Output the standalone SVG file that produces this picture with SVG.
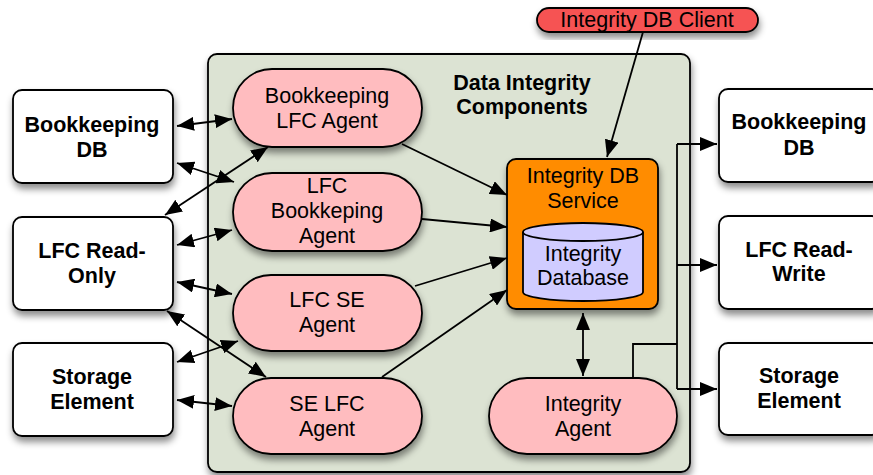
<svg xmlns="http://www.w3.org/2000/svg" width="873" height="475" viewBox="0 0 873 475">
  <defs>
    <filter id="shadow" x="-20%" y="-20%" width="140%" height="150%">
      <feDropShadow dx="1" dy="5" stdDeviation="3.5" flood-color="#000" flood-opacity="0.45"/>
    </filter>
    <marker id="arrow" markerUnits="userSpaceOnUse" markerWidth="18" markerHeight="14" refX="17" refY="7" orient="auto-start-reverse">
      <path d="M0,0 L17,7 L0,14 z" fill="#000"/>
    </marker>
  </defs>
  <style>
    text { font-family: "Liberation Sans", Arial, Helvetica, sans-serif; font-size: 21.5px; text-anchor: middle; fill: #000; }
    .bold { font-weight: bold; }
    .ext { fill: #fff; stroke: #000; stroke-width: 1.8; filter: url(#shadow); }
    .agent { fill: #ffbcbf; stroke: #000; stroke-width: 1.8; filter: url(#shadow); }
    .conn line, .conn path { stroke: #000; stroke-width: 1.8; fill: none; }
    .two { marker-start: url(#arrow); marker-end: url(#arrow); }
    .one { marker-end: url(#arrow); }
  </style>

  <!-- container -->
  <g id="data-integrity-components">
    <rect x="208" y="54" width="482" height="418" rx="9" fill="#dce3d3" stroke="#000" stroke-width="1.8" filter="url(#shadow)"/>
    <text class="bold" x="522" y="90">Data Integrity</text>
    <text class="bold" x="522" y="114">Components</text>
  </g>

  <!-- external systems, left -->
  <g id="bookkeeping-db-left">
    <rect class="ext" x="13" y="90" width="160" height="93" rx="9"/>
    <text class="bold" x="92" y="132">Bookkeeping</text>
    <text class="bold" x="92" y="157">DB</text>
  </g>
  <g id="lfc-read-only">
    <rect class="ext" x="13" y="217" width="160" height="93" rx="9"/>
    <text class="bold" x="92" y="258">LFC Read-</text>
    <text class="bold" x="92" y="283">Only</text>
  </g>
  <g id="storage-element-left">
    <rect class="ext" x="13" y="343" width="160" height="93" rx="9"/>
    <text class="bold" x="92" y="384">Storage</text>
    <text class="bold" x="92" y="409">Element</text>
  </g>

  <!-- external systems, right -->
  <g id="bookkeeping-db-right">
    <rect class="ext" x="719" y="89" width="162" height="93" rx="9"/>
    <text class="bold" x="799" y="129">Bookkeeping</text>
    <text class="bold" x="799" y="155">DB</text>
  </g>
  <g id="lfc-read-write">
    <rect class="ext" x="719" y="216" width="162" height="93" rx="9"/>
    <text class="bold" x="799" y="257">LFC Read-</text>
    <text class="bold" x="799" y="281">Write</text>
  </g>
  <g id="storage-element-right">
    <rect class="ext" x="719" y="343" width="162" height="92" rx="9"/>
    <text class="bold" x="799" y="383">Storage</text>
    <text class="bold" x="799" y="408">Element</text>
  </g>

  <!-- agents -->
  <g id="bookkeeping-lfc-agent">
    <rect class="agent" x="233" y="69" width="189" height="78" rx="39"/>
    <text x="327" y="103">Bookkeeping</text>
    <text x="327" y="128">LFC Agent</text>
  </g>
  <g id="lfc-bookkeping-agent">
    <rect class="agent" x="233" y="173" width="189" height="78" rx="39"/>
    <text x="327" y="193">LFC</text>
    <text x="327" y="218">Bookkeping</text>
    <text x="327" y="243">Agent</text>
  </g>
  <g id="lfc-se-agent">
    <rect class="agent" x="233" y="275" width="189" height="76" rx="38"/>
    <text x="327" y="307">LFC SE</text>
    <text x="327" y="332">Agent</text>
  </g>
  <g id="se-lfc-agent">
    <rect class="agent" x="233" y="378" width="189" height="76" rx="38"/>
    <text x="327" y="411">SE LFC</text>
    <text x="327" y="436">Agent</text>
  </g>
  <g id="integrity-agent">
    <rect class="agent" x="489" y="378" width="188" height="76" rx="38"/>
    <text x="583" y="411">Integrity</text>
    <text x="583" y="436">Agent</text>
  </g>

  <!-- service with its database -->
  <g id="integrity-db-service">
    <rect x="507" y="159" width="151" height="150" rx="9" fill="#ff8c00" stroke="#000" stroke-width="1.8" filter="url(#shadow)"/>
    <text x="583" y="183">Integrity DB</text>
    <text x="583" y="208">Service</text>
  </g>
  <g id="integrity-database">
    <path d="M523,232 V292 A60,9 0 0 0 643,292 V232 A60,9 0 0 0 523,232 Z" fill="#d0ccff" stroke="#000" stroke-width="1.8"/>
    <path d="M523,232 A60,9 0 0 0 643,232" fill="none" stroke="#000" stroke-width="1.8"/>
    <text x="583" y="261">Integrity</text>
    <text x="583" y="285">Database</text>
  </g>

  <!-- client -->
  <g id="integrity-db-client">
    <rect x="537" y="8" width="221" height="24" rx="12" fill="#f65353" stroke="#000" stroke-width="1.8" filter="url(#shadow)"/>
    <text x="647" y="27">Integrity DB Client</text>
  </g>

  <!-- connectors -->
  <g id="connectors" class="conn">
    <line class="two" x1="177" y1="126" x2="232" y2="119"/>
    <line class="two" x1="177" y1="163" x2="234" y2="182"/>
    <line class="two" x1="165" y1="215" x2="268" y2="147"/>
    <line class="two" x1="177" y1="245" x2="232" y2="230"/>
    <line class="two" x1="177" y1="282" x2="232" y2="294"/>
    <line class="two" x1="167" y1="311" x2="266" y2="377"/>
    <line class="two" x1="177" y1="362" x2="238" y2="341"/>
    <line class="two" x1="177" y1="400" x2="232" y2="406"/>

    <line class="one" x1="402" y1="144" x2="507" y2="195"/>
    <line class="one" x1="422" y1="219" x2="507" y2="227"/>
    <line class="one" x1="415" y1="286" x2="507" y2="258"/>
    <line class="one" x1="382" y1="377" x2="507" y2="290"/>

    <line class="one" x1="643" y1="32" x2="607" y2="157"/>
    <line class="two" x1="583" y1="313" x2="583" y2="376"/>

    <path d="M633,378 V344 H677"/>
    <path d="M677,144 V389"/>
    <line class="one" x1="677" y1="144" x2="717" y2="144"/>
    <line class="one" x1="677" y1="265" x2="717" y2="265"/>
    <line class="one" x1="677" y1="389" x2="717" y2="389"/>
  </g>
</svg>
